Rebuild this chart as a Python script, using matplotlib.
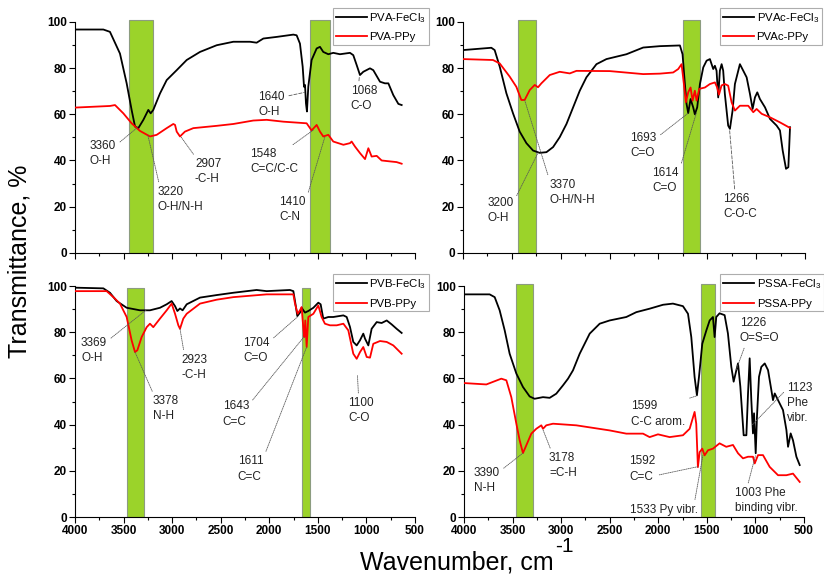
import matplotlib.pyplot as plt
from matplotlib.ticker import MultipleLocator

plt.rcParams['font.family'] = ['Liberation Sans', 'DejaVu Sans']
plt.rcParams['mathtext.default'] = 'regular'

# ---- PVA ----
pva_fe_wn = [4000, 3708, 3640, 3537, 3468, 3417, 3382, 3348, 3296, 3245, 3221, 3194, 3125, 3056,
             2953, 2850, 2713, 2541, 2370, 2198, 2130, 2061, 1924, 1752, 1718, 1684, 1656, 1642,
             1632, 1622, 1612, 1598, 1564, 1512, 1478, 1444, 1392, 1341, 1272, 1169, 1135, 1100,
             1066, 1032, 963, 929, 860, 809, 774, 723, 671, 637]
pva_fe_t = [96.7, 96.7, 95.7, 86.3, 73.4, 61.9, 54.7, 54.0, 57.6, 61.9, 60.4, 61.9, 69.0, 74.8,
            79.1, 83.5, 87.0, 89.9, 91.4, 91.4, 91.0, 92.8, 93.5, 94.5, 94.2, 90.6, 80.6, 71.9,
            72.7, 64.7, 61.2, 72.0, 83.5, 88.5, 89.2, 87.0, 86.0, 86.6, 86.0, 86.6, 85.6, 81.3,
            77.0, 78.4, 79.9, 79.1, 74.1, 73.4, 73.4, 68.3, 64.5, 64.0]
pva_ppy_wn = [4000, 3640, 3588, 3502, 3417, 3331, 3228, 3159, 3056, 2988, 2970, 2953, 2919, 2868,
              2782, 2541, 2370, 2164, 2027, 1855, 1615, 1564, 1512, 1478, 1444, 1392, 1341, 1237,
              1169, 1152, 1117, 1066, 1014, 980, 946, 894, 843, 757, 689, 637]
pva_ppy_t = [62.9, 63.6, 64.0, 60.4, 56.1, 52.8, 50.4, 51.1, 54.0, 55.8, 55.4, 52.5, 50.4, 52.5,
             54.0, 55.0, 55.8, 57.3, 57.6, 56.8, 56.1, 53.0, 55.4, 52.5, 50.4, 51.1, 48.2, 46.8,
             47.5, 48.2, 46.0, 43.2, 40.6, 45.3, 41.7, 42.0, 40.0, 39.6, 39.3, 38.6]

# ---- PVAc ----
pvac_fe_wn = [4000, 3710, 3676, 3624, 3556, 3488, 3420, 3351, 3283, 3215, 3146, 3078, 3010, 2941,
              2873, 2805, 2737, 2634, 2532, 2327, 2156, 1985, 1780, 1753, 1729, 1712, 1695, 1671,
              1644, 1627, 1603, 1575, 1541, 1507, 1473, 1439, 1422, 1405, 1388, 1371, 1353, 1337,
              1320, 1286, 1268, 1241, 1217, 1166, 1132, 1097, 1063, 1036, 1012, 988, 961, 909,
              858, 790, 756, 728, 694, 670, 653]
pvac_fe_t = [87.8, 88.8, 87.8, 80.6, 69.1, 60.4, 52.5, 47.5, 44.3, 43.3, 43.6, 45.8, 50.1, 55.8,
             63.0, 70.2, 76.0, 81.7, 83.9, 86.0, 88.9, 89.5, 89.8, 86.0, 73.1, 64.5, 60.5, 66.6,
             63.0, 60.0, 63.0, 73.1, 80.3, 83.2, 83.9, 79.6, 81.0, 78.9, 67.3, 78.9, 81.7, 78.9,
             68.8, 55.1, 53.7, 61.6, 73.1, 81.7, 78.9, 76.0, 68.8, 62.3, 67.3, 69.5, 66.6, 63.0,
             58.0, 55.1, 53.0, 44.3, 36.4, 37.1, 54.4]
pvac_ppy_wn = [4000, 3693, 3624, 3522, 3454, 3403, 3369, 3317, 3266, 3232, 3198, 3112, 3010, 2907,
               2839, 2498, 2156, 1985, 1849, 1797, 1763, 1739, 1719, 1695, 1671, 1650, 1627, 1609,
               1582, 1524, 1473, 1422, 1398, 1380, 1354, 1320, 1286, 1251, 1217, 1166, 1081, 1029,
               995, 943, 858, 756, 653]
pvac_ppy_t = [83.9, 83.5, 82.0, 76.3, 71.9, 66.2, 66.2, 70.5, 72.7, 71.7, 73.4, 77.0, 78.4, 77.7,
              78.8, 78.7, 77.4, 77.6, 78.1, 79.6, 81.7, 73.1, 65.2, 69.5, 71.6, 65.9, 70.2, 65.9,
              71.0, 71.6, 73.1, 73.8, 71.6, 68.5, 72.5, 73.1, 72.4, 65.2, 61.6, 63.7, 63.7, 60.9,
              62.3, 60.2, 58.7, 56.5, 54.1]

# ---- PVB ----
pvb_fe_wn = [4000, 3708, 3640, 3571, 3468, 3331, 3228, 3125, 3056, 3005, 2970, 2946, 2919, 2892,
             2850, 2713, 2541, 2370, 2130, 2027, 1787, 1752, 1735, 1711, 1684, 1667, 1632, 1598,
             1546, 1495, 1471, 1444, 1392, 1341, 1237, 1203, 1169, 1135, 1100, 1066, 1032, 1014,
             980, 946, 894, 843, 791, 740, 689, 637]
pvb_fe_t = [99.3, 99.0, 97.1, 93.5, 90.6, 89.5, 89.5, 90.6, 92.1, 93.5, 91.3, 89.2, 90.3, 89.5,
            92.1, 95.0, 96.1, 97.1, 98.3, 97.8, 98.3, 97.8, 93.5, 87.0, 88.5, 90.6, 88.5, 89.2,
            90.6, 92.8, 92.1, 85.9, 86.6, 86.6, 87.3, 86.6, 82.3, 75.8, 74.3, 76.5, 79.4, 77.2,
            74.3, 81.5, 84.4, 84.0, 85.1, 83.4, 81.5, 79.7]
pvb_ppy_wn = [4000, 3674, 3605, 3537, 3468, 3417, 3382, 3358, 3314, 3262, 3228, 3194, 3125, 3056,
              3005, 2970, 2936, 2919, 2885, 2850, 2713, 2541, 2370, 2027, 1752, 1735, 1708, 1684,
              1667, 1650, 1640, 1629, 1615, 1598, 1546, 1495, 1461, 1427, 1375, 1306, 1237, 1186,
              1135, 1100, 1066, 1032, 997, 963, 929, 860, 791, 723, 637]
pvb_ppy_t = [97.8, 97.8, 95.2, 92.4, 86.6, 76.5, 71.4, 72.2, 77.9, 82.2, 83.7, 82.2, 85.9, 89.5,
             92.4, 88.0, 83.0, 81.5, 85.9, 88.0, 92.4, 94.1, 95.2, 96.4, 96.4, 92.4, 88.0, 89.5,
             90.9, 82.2, 77.9, 85.1, 73.6, 86.6, 88.0, 91.6, 86.6, 83.7, 83.0, 83.0, 83.7, 80.8,
             70.7, 68.5, 71.4, 73.6, 69.3, 69.0, 75.0, 76.2, 75.8, 74.3, 70.7]

# ---- PSSA ----
pssa_fe_wn = [4000, 3736, 3684, 3633, 3581, 3530, 3461, 3393, 3324, 3273, 3187, 3118, 3050, 2981,
              2929, 2878, 2809, 2706, 2603, 2501, 2329, 2226, 2089, 1951, 1849, 1746, 1694, 1660,
              1626, 1602, 1581, 1547, 1505, 1471, 1437, 1420, 1403, 1369, 1317, 1283, 1248, 1224,
              1196, 1179, 1155, 1121, 1093, 1076, 1059, 1042, 1025, 1014, 997, 984, 963, 939, 904,
              870, 836, 819, 801, 767, 716, 681, 664, 637, 613, 578, 544]
pssa_fe_t = [96.4, 96.4, 95.2, 89.5, 80.8, 70.7, 62.1, 56.3, 52.2, 51.2, 51.9, 51.6, 53.4, 57.0,
             59.9, 63.5, 70.7, 79.4, 83.7, 85.1, 86.6, 88.7, 90.2, 91.9, 92.4, 91.3, 88.0, 77.9,
             60.6, 52.7, 60.6, 75.0, 80.8, 85.1, 86.6, 77.9, 86.6, 88.2, 87.4, 79.5, 65.0, 58.6,
             63.6, 66.5, 56.4, 35.4, 35.4, 53.5, 68.7, 50.6, 36.2, 44.9, 27.6, 43.4, 60.7, 65.0, 66.5,
             63.6, 55.0, 50.6, 53.5, 50.6, 46.3, 37.7, 30.4, 36.2, 33.2, 26.1, 22.5]
pssa_ppy_wn = [4000, 3770, 3616, 3564, 3513, 3461, 3427, 3393, 3359, 3307, 3256, 3204, 3187, 3153,
               3084, 2844, 2501, 2329, 2157, 2089, 2003, 1883, 1746, 1677, 1626, 1609, 1592, 1574,
               1547, 1523, 1488, 1437, 1369, 1300, 1231, 1179, 1128, 1076, 1025, 1007, 973, 922,
               853, 767, 681, 613, 544]
pssa_ppy_t = [58.0, 57.4, 59.9, 59.2, 51.9, 40.4, 33.2, 27.7, 31.0, 36.1, 38.2, 39.7, 38.2, 39.7,
              40.4, 39.7, 37.5, 36.1, 36.1, 34.6, 35.8, 34.6, 35.4, 38.2, 45.5, 40.4, 21.6, 28.1,
              29.6, 26.7, 28.9, 29.6, 31.9, 30.4, 31.2, 27.6, 25.4, 26.1, 26.1, 23.2, 26.8, 26.8,
              21.7, 18.1, 18.1, 18.8, 15.2]

# highlighted bands (from, to, top)
pva_bands = [(3440, 3200, 101), (1580, 1375, 101)]
pvac_bands = [(3437, 3253, 101), (1748, 1574, 101)]
pvb_bands = [(3465, 3290, 99.3), (1662, 1580, 99.3)]
pssa_bands = [(3466, 3292, 101), (1557, 1413, 101)]

# peak notes: text, peak (wn, T), text corner (wn, T), line anchor on text, dashed
pva_notes = [('3360\nO-H', (3360, 54.2), (3846, 49), (1, 0.8), False),
             ('3220\nO-H/N-H', (3250, 51), (3152, 29), (0.05, 1), False),
             ('2907\n-C-H', (2912, 50.4), (2765, 41), (0.05, 1), False),
             ('1640\nO-H', (1635, 69.5), (2113, 70), (1, 0.8), True),
             ('1548\nC=C/C-C', (1546, 53.2), (2198, 45.3), (0.65, 0.82), False),
             ('1410\nC-N', (1426, 50.4), (1896, 24.5), (1, 0.85), False),
             ('1068\nC-O', (1072, 76.5), (1162, 72.7), (0.3, 1), True)]
pvac_notes = [('3200\nO-H', (3232, 43.3), (3754, 24.2), (1, 0.8), False),
              ('3370\nO-H/N-H', (3368, 66), (3119, 32.1), (0.0, 1), False),
              ('1693\nC=O', (1695, 60.5), (2286, 52.2), (1, 0.8), False),
              ('1614\nC=O', (1612, 60.5), (2061, 37.1), (1, 0.85), False),
              ('1266\nC-O-C', (1272, 53.5), (1337, 25.9), (0.35, 1), True)]
pvb_notes = [('3369\nO-H', (3262, 89.8), (3938, 77.9), (1, 0.85), False),
             ('3378\nN-H', (3382, 71.4), (3200, 52.7), (0.05, 1), False),
             ('2923\n-C-H', (2919, 81.5), (2902, 70.7), (0.1, 1), False),
             ('1704\nC=O', (1711, 86.6), (2267, 77.9), (1, 0.85), False),
             ('1643\nC=C', (1643, 78), (2480, 50.5), (1, 0.85), False),
             ('1611\nC=C', (1615, 73.6), (2325, 26.7), (1, 0.9), False),
             ('1100\nC-O', (1092, 61.3), (1186, 51.9), (0.4, 1), False)]
pssa_notes = [('3390\nN-H', (3393, 27.7), (3900, 21.6), (1, 0.85), False),
              ('3178\n=C-H', (3187, 37.8), (3125, 28.1), (0.1, 1), False),
              ('1599\nC-C arom.', (1602, 52.5), (2277, 50.5), (0.6, 0.78), False),
              ('1592\nC=C', (1592, 21.8), (2302, 26.7), (1, 0.25), False),
              ('1533 Py vibr.', (1540, 26.7), (2295, 5.8), (0.95, 1), False),
              ('1226\nO=S=O', (1200, 63.5), (1162, 86.6), (0.15, 0), False),
              ('1123\nPhe\nvibr.', (1030, 40), (671, 58.4), (0, 0.85), False),
              ('1003 Phe\nbinding vibr.', (1000, 26.5), (1214, 13), (0.2, 1), False)]

panels = [
    ([0.091, 0.561, 0.4126, 0.409], pva_fe_wn, pva_fe_t, 'PVA-FeCl$_3$', pva_ppy_wn, pva_ppy_t,
     'PVA-PPy', pva_bands, pva_notes, (0.759, 1.04), False),
    ([0.5619, 0.561, 0.415, 0.409], pvac_fe_wn, pvac_fe_t, 'PVAc-FeCl$_3$', pvac_ppy_wn, pvac_ppy_t,
     'PVAc-PPy', pvac_bands, pvac_notes, (0.752, 1.04), False),
    ([0.091, 0.1024, 0.4126, 0.409], pvb_fe_wn, pvb_fe_t, 'PVB-FeCl$_3$', pvb_ppy_wn, pvb_ppy_t,
     'PVB-PPy', pvb_bands, pvb_notes, (0.759, 1.032), True),
    ([0.5631, 0.1024, 0.4126, 0.409], pssa_fe_wn, pssa_fe_t, 'PSSA-FeCl$_3$', pssa_ppy_wn, pssa_ppy_t,
     'PSSA-PPy', pssa_bands, pssa_notes, (0.754, 1.032), True),
]

fig = plt.figure(figsize=(8.24, 5.76), dpi=100)

for rect, wn1, t1, lab1, wn2, t2, lab2, bands, notes, anchor, bottom in panels:
    ax = fig.add_axes(rect)
    for lo, hi, top in bands:
        ax.bar((lo + hi) / 2, top, width=lo - hi, color='#9bd32a', edgecolor='#8c9c80',
               linewidth=0.8, zorder=1)
    ax.plot(wn1, t1, color='black', lw=1.3, label=lab1, zorder=3)
    ax.plot(wn2, t2, color='#ff0000', lw=1.3, label=lab2, zorder=3)
    for txt, xy, xyt, rp, dashed in notes:
        ax.annotate(txt, xy=xy, xytext=xyt, ha='left', va='top', fontsize=8.5,
                    linespacing=1.35, color='#222222', zorder=4,
                    arrowprops=dict(arrowstyle='-', color='0.35', lw=0.6,
                                    linestyle=(0, (4, 2)) if dashed else (0, (1, 1.2)),
                                    shrinkA=1, shrinkB=0, relpos=rp))
    ax.set_xlim(4000, 500)
    ax.set_ylim(0, 102)
    ax.spines['top'].set_visible(False)
    ax.spines['right'].set_visible(False)
    ax.spines['left'].set_bounds(0, 100)
    ax.xaxis.set_major_locator(MultipleLocator(500))
    ax.xaxis.set_minor_locator(MultipleLocator(250))
    ax.yaxis.set_major_locator(MultipleLocator(20))
    ax.yaxis.set_minor_locator(MultipleLocator(10))
    ax.tick_params(which='major', direction='out', length=4, width=0.8)
    ax.tick_params(which='minor', direction='out', length=2.5, width=0.8)
    ax.tick_params(labelsize=8.5, pad=2)
    for lbl in ax.get_xticklabels() + ax.get_yticklabels():
        lbl.set_fontweight('bold')
    if not bottom:
        ax.tick_params(labelbottom=False)
    leg = ax.legend(loc='upper left', bbox_to_anchor=anchor, fontsize=8.2, frameon=True,
                    fancybox=False, handlelength=2.7, borderpad=0.25, labelspacing=0.7,
                    handletextpad=0.25, borderaxespad=0)
    leg.get_frame().set_edgecolor('0.6')
    leg.get_frame().set_linewidth(0.8)

fig.text(0.024, 0.547, 'Transmittance, %', rotation=90, ha='center', va='center', fontsize=18)
fig.text(0.554, 0.012, 'Wavenumber, cm', ha='center', va='baseline', fontsize=18)
fig.text(0.674, 0.042, '-1', ha='left', va='baseline', fontsize=15)

fig.savefig('out.png', dpi=100)
